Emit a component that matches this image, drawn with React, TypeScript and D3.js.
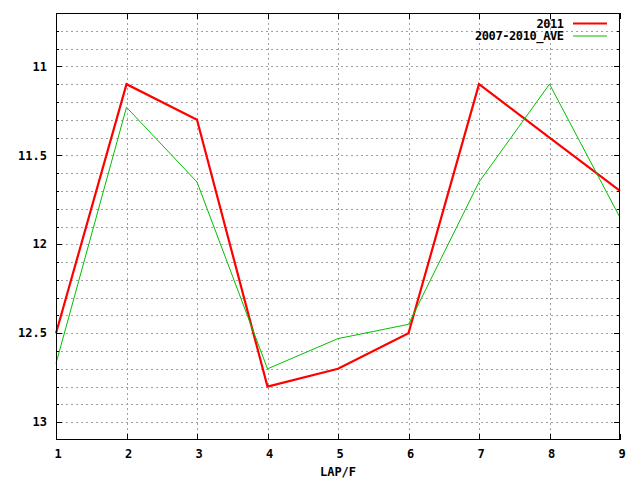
import { range, scaleLinear, line } from 'd3'

const laps = [1, 2, 3, 4, 5, 6, 7, 8, 9]
const series2011 = [12.5, 11.1, 11.3, 12.8, 12.7, 12.5, 11.1, 11.4, 11.7]
const seriesAve = [12.67, 11.23, 11.65, 12.7, 12.53, 12.45, 11.65, 11.1, 11.85]
const yTickLabels = [11, 11.5, 12, 12.5, 13]

const width = 640
const height = 480
const margin = { top: 13, right: 20, bottom: 40, left: 56 }
const font = '"DejaVu Sans Mono", monospace'

function App() {
  const innerWidth = width - margin.left - margin.right
  const innerHeight = height - margin.top - margin.bottom

  const x = scaleLinear().domain([1, 9]).range([0, innerWidth])
  const y = scaleLinear().domain([10.7, 13.1]).range([0, innerHeight])

  // minor grid every 0.1
  const minorTicks = range(10.8, 13.1, 0.1).map((v) => Math.round(v * 10) / 10)

  const path = line<number>()
    .x((_, i) => x(laps[i]))
    .y((d) => y(d))

  const series = [
    { name: '2011', values: series2011, color: '#ff0000', width: 2.2 },
    { name: '2007-2010_AVE', values: seriesAve, color: '#00c000', width: 1 },
  ]

  return (
    <>
      <style>{'body{margin:0}'}</style>
      <svg width={width} height={height} style={{ display: 'block', background: '#fff' }}>
        <g transform={`translate(${margin.left}, ${margin.top})`}>
          {minorTicks.map((tick) => (
            <line
              key={`h-${tick}`}
              x1={0}
              x2={innerWidth}
              y1={Math.round(y(tick)) + 0.5}
              y2={Math.round(y(tick)) + 0.5}
              stroke="#a0a0a0"
              strokeDasharray="2,3"
            />
          ))}
          {laps.slice(1, -1).map((lap) => (
            <line
              key={`v-${lap}`}
              x1={Math.round(x(lap)) + 0.5}
              x2={Math.round(x(lap)) + 0.5}
              y1={0}
              y2={innerHeight}
              stroke="#a0a0a0"
              strokeDasharray="2,3"
            />
          ))}

          {minorTicks.map((tick) => {
            const major = yTickLabels.includes(tick)
            const len = major ? 6 : 3
            const yy = Math.round(y(tick)) + 0.5
            return (
              <g key={`yt-${tick}`} stroke="#000">
                <line x1={0} x2={len} y1={yy} y2={yy} />
                <line x1={innerWidth - len} x2={innerWidth} y1={yy} y2={yy} />
              </g>
            )
          })}
          {laps.map((lap) => {
            const xx = Math.round(x(lap)) + 0.5
            return (
              <g key={`xt-${lap}`} stroke="#000">
                <line x1={xx} x2={xx} y1={innerHeight} y2={innerHeight - 6} />
                <line x1={xx} x2={xx} y1={0} y2={6} />
              </g>
            )
          })}

          {series.map((s) => (
            <path
              key={s.name}
              d={path(s.values) ?? ''}
              fill="none"
              stroke={s.color}
              strokeWidth={s.width}
              strokeLinejoin="miter"
            />
          ))}

          <rect
            x={0.5}
            y={0.5}
            width={innerWidth - 1}
            height={innerHeight - 1}
            fill="none"
            stroke="#000"
            strokeWidth={1}
          />

          {yTickLabels.map((tick) => (
            <text
              key={`yl-${tick}`}
              x={-9}
              y={y(tick)}
              dy="0.35em"
              textAnchor="end"
              fontFamily={font}
              fontWeight="bold"
              fontSize={12}
            >
              {tick}
            </text>
          ))}
          {laps.map((lap) => (
            <text
              key={`xl-${lap}`}
              x={x(lap) + 2}
              y={innerHeight + 14}
              dy="0.35em"
              textAnchor="middle"
              fontFamily={font}
              fontWeight="bold"
              fontSize={12}
            >
              {lap}
            </text>
          ))}
          <text
            x={innerWidth / 2}
            y={innerHeight + 32}
            dy="0.35em"
            textAnchor="middle"
            fontFamily={font}
            fontWeight="bold"
            fontSize={12}
          >
            LAP/F
          </text>

          {series.map((s, i) => {
            const ly = 10.5 + i * 12.5
            return (
              <g key={`lg-${s.name}`}>
                <text
                  x={508}
                  y={ly}
                  dy="0.35em"
                  textAnchor="end"
                  fontFamily={font}
                  fontWeight="bold"
                  fontSize={12}
                  textLength={s.name.length * 6.85}
                >
                  {s.name}
                </text>
                <line
                  x1={517}
                  x2={551}
                  y1={ly}
                  y2={ly}
                  stroke={s.color}
                  strokeWidth={s.width}
                />
              </g>
            )
          })}
        </g>
      </svg>
    </>
  )
}

export default App
